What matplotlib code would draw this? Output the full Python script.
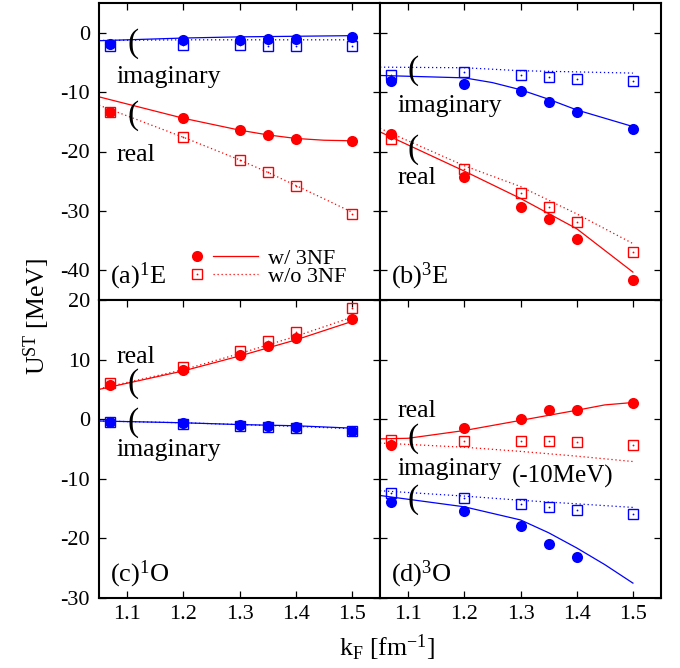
import matplotlib
matplotlib.use("Agg")
import matplotlib.pyplot as plt
from matplotlib.lines import Line2D
from matplotlib.legend_handler import HandlerBase

plt.rcParams['font.family'] = ['Liberation Serif', 'DejaVu Serif']
plt.rcParams['mathtext.fontset'] = 'custom'
plt.rcParams['mathtext.rm'] = 'Liberation Serif'
plt.rcParams['mathtext.it'] = 'Liberation Serif:italic'
plt.rcParams['mathtext.bf'] = 'Liberation Serif:bold'
plt.rcParams['axes.unicode_minus'] = False

RED = '#ff0000'
BLUE = '#0000ff'

# ---------------- data ----------------
kF_pts = [1.07, 1.2, 1.3, 1.35, 1.4, 1.5]

# (a) 1E
a_re_w = [-13.4, -14.4, -16.4, -17.3, -17.9, -18.2]
a_re_wo = [-13.4, -17.6, -21.4, -23.5, -25.8, -30.6]
a_im_w = [-1.9, -1.3, -1.2, -1.1, -1.1, -0.8]
a_im_wo = [-2.3, -2.1, -2.1, -2.2, -2.2, -2.3]
a_re_w_line_x = [1.05, 1.1, 1.2, 1.3, 1.35, 1.4, 1.45, 1.5]
a_re_w_line = [-10.8, -12.0, -14.4, -16.4, -17.2, -17.8, -18.1, -18.2]
a_re_wo_line_x = [1.05, 1.2, 1.3, 1.35, 1.4, 1.5]
a_re_wo_line = [-12.2, -17.6, -21.4, -23.5, -25.7, -30.2]
a_im_w_line_x = [1.05, 1.2, 1.3, 1.4, 1.5]
a_im_w_line = [-1.35, -0.9, -0.7, -0.6, -0.5]
a_im_wo_line_x = [1.05, 1.2, 1.5]
a_im_wo_line = [-1.3, -1.2, -1.2]

# (b) 3E
b_re_w = [-17.1, -24.3, -29.4, -31.4, -34.8, -41.6]
b_re_wo = [-17.9, -22.9, -27.0, -29.3, -31.8, -37.0]
b_im_w = [-8.1, -8.7, -9.8, -11.6, -13.3, -16.2]
b_im_wo = [-7.1, -6.6, -7.2, -7.5, -7.8, -8.1]
b_re_w_line_x = [1.05, 1.2, 1.3, 1.4, 1.5]
b_re_w_line = [-16.7, -23.3, -27.9, -33.0, -40.3]
b_re_wo_line_x = [1.05, 1.2, 1.3, 1.4, 1.5]
b_re_wo_line = [-16.1, -22.4, -25.9, -30.5, -35.5]
b_im_w_line_x = [1.05, 1.2, 1.25, 1.3, 1.35, 1.4, 1.45, 1.5]
b_im_w_line = [-7.2, -7.6, -8.4, -9.6, -11.2, -13.0, -14.4, -15.8]
b_im_wo_line_x = [1.05, 1.2, 1.3, 1.4, 1.5]
b_im_wo_line = [-5.8, -5.9, -6.4, -6.6, -6.8]

# (c) 1O
c_re_w = [5.7, 8.3, 10.8, 12.2, 13.6, 16.8]
c_re_wo = [6.0, 8.8, 11.5, 13.1, 14.7, 18.6]
c_im_w = [-0.4, -0.7, -1.0, -1.2, -1.3, -1.9]
c_im_wo = [-0.5, -0.8, -1.1, -1.3, -1.4, -2.0]
c_re_w_line_x = [1.05, 1.2, 1.3, 1.4, 1.5]
c_re_w_line = [5.0, 8.1, 10.6, 13.3, 16.4]
c_re_wo_line_x = [1.05, 1.2, 1.3, 1.4, 1.5]
c_re_wo_line = [5.1, 8.3, 11.0, 13.9, 17.1]
c_im_w_line_x = [1.05, 1.2, 1.3, 1.4, 1.5]
c_im_w_line = [-0.3, -0.6, -0.9, -1.1, -1.5]
c_im_wo_line_x = [1.05, 1.2, 1.3, 1.4, 1.5]
c_im_wo_line = [-0.3, -0.6, -0.9, -1.2, -1.6]

# (d) 3O  (imaginary shifted by -10 MeV)
d_re_w = [-4.3, -1.5, 0.1, 1.5, 1.6, 2.8]
d_re_wo = [-3.5, -3.6, -3.7, -3.7, -3.9, -4.3]
d_im_w_x = [1.07, 1.2, 1.3, 1.35, 1.4]
d_im_w = [-13.9, -15.4, -17.9, -20.9, -23.2]
d_im_wo = [-12.3, -13.2, -14.2, -14.8, -15.2, -15.9]
d_re_w_line_x = [1.05, 1.1, 1.2, 1.3, 1.4, 1.45, 1.5]
d_re_w_line = [-3.3, -3.2, -1.9, -0.2, 1.5, 2.4, 2.8]
d_re_wo_line_x = [1.05, 1.2, 1.3, 1.4, 1.5]
d_re_wo_line = [-4.0, -4.7, -5.4, -6.2, -7.1]
d_im_w_line_x = [1.05, 1.2, 1.3, 1.35, 1.4, 1.45, 1.5]
d_im_w_line = [-12.8, -14.7, -16.9, -19.05, -21.6, -24.4, -27.5]
d_im_wo_line_x = [1.05, 1.2, 1.3, 1.4, 1.5]
d_im_wo_line = [-12.0, -12.9, -13.6, -14.2, -14.8]

x_ticks = [1.1, 1.2, 1.3, 1.4, 1.5]
top_yticks = [0, -10, -20, -30, -40]
bot_yticks = [20, 10, 0, -10, -20, -30]
panel_labels = ['(a)$^{1}$E', '(b)$^{3}$E', '(c)$^{1}$O', '(d)$^{3}$O']

FS = 16      # ticks, legend
FS_T = 18.5  # annotations, axis labels
FS_P = 19    # panel labels
MS_C = 8
MS_S = 7.2
LW = 0.9
DOT = (0, (1, 2.2))

fig = plt.figure(figsize=(6.8, 6.68), dpi=100)
W, H = 680.0, 668.0
x0, xm, x1 = 99, 380, 661
y0, ym, y1 = 3, 300, 598
ax_a = fig.add_axes([x0 / W, 1 - ym / H, (xm - x0) / W, (ym - y0) / H])
ax_b = fig.add_axes([xm / W, 1 - ym / H, (x1 - xm) / W, (ym - y0) / H])
ax_c = fig.add_axes([x0 / W, 1 - y1 / H, (xm - x0) / W, (y1 - ym) / H])
ax_d = fig.add_axes([xm / W, 1 - y1 / H, (x1 - xm) / W, (y1 - ym) / H])


def draw(ax, xs, re_w, re_wo, im_w, im_wo, lines, im_w_x=None):
    (rwx, rw, rwox, rwo, iwx, iw, iwox, iwo) = lines
    ax.plot(rwx, rw, color=RED, lw=LW, zorder=2)
    ax.plot(rwox, rwo, color=RED, lw=LW, ls=DOT, zorder=2)
    ax.plot(iwx, iw, color=BLUE, lw=LW, zorder=2)
    ax.plot(iwox, iwo, color=BLUE, lw=LW, ls=DOT, zorder=2)
    ixw = xs if im_w_x is None else im_w_x
    for yy, col in ((re_wo, RED), (im_wo, BLUE)):
        ax.plot(xs, yy, ls='none', marker='s', ms=MS_S, mfc='none', mec=col, mew=1.0, zorder=3)
        ax.plot(xs, yy, ls='none', marker='o', ms=1.3, mfc=col, mec=col, mew=0, zorder=3)
    ax.plot(xs, re_w, ls='none', marker='o', ms=MS_C, color=RED, mew=0, zorder=4)
    ax.plot(ixw, im_w, ls='none', marker='o', ms=MS_C, color=BLUE, mew=0, zorder=4)


draw(ax_a, kF_pts, a_re_w, a_re_wo, a_im_w, a_im_wo,
     (a_re_w_line_x, a_re_w_line, a_re_wo_line_x, a_re_wo_line,
      a_im_w_line_x, a_im_w_line, a_im_wo_line_x, a_im_wo_line))
draw(ax_b, kF_pts, b_re_w, b_re_wo, b_im_w, b_im_wo,
     (b_re_w_line_x, b_re_w_line, b_re_wo_line_x, b_re_wo_line,
      b_im_w_line_x, b_im_w_line, b_im_wo_line_x, b_im_wo_line))
draw(ax_c, kF_pts, c_re_w, c_re_wo, c_im_w, c_im_wo,
     (c_re_w_line_x, c_re_w_line, c_re_wo_line_x, c_re_wo_line,
      c_im_w_line_x, c_im_w_line, c_im_wo_line_x, c_im_wo_line))
draw(ax_d, kF_pts, d_re_w, d_re_wo, d_im_w, d_im_wo,
     (d_re_w_line_x, d_re_w_line, d_re_wo_line_x, d_re_wo_line,
      d_im_w_line_x, d_im_w_line, d_im_wo_line_x, d_im_wo_line), im_w_x=d_im_w_x)

for ax, top in ((ax_a, True), (ax_b, True), (ax_c, False), (ax_d, False)):
    ax.set_xlim(1.05, 1.55)
    if top:
        ax.set_ylim(-45, 5)
        ax.set_yticks(top_yticks)
    else:
        ax.set_ylim(-30, 20)
        ax.set_yticks(bot_yticks)
    ax.set_xticks(x_ticks)
    ax.set_xticklabels([f'{t:.1f}' for t in x_ticks])
    for s in ax.spines.values():
        s.set_linewidth(1.5)
    ax.tick_params(axis='both', direction='in', length=5, width=0.9, labelsize=FS,
                   left=True, right=True, top=True, bottom=not top)
    ax.tick_params(axis='y', pad=6.5)
    ax.tick_params(axis='x', pad=5)
    if top:
        ax.tick_params(axis='x', labelbottom=False)

ax_b.tick_params(axis='y', labelleft=False)
ax_d.tick_params(axis='y', labelleft=False)

# panel labels
for ax, lab in zip((ax_a, ax_b, ax_c, ax_d), panel_labels):
    ax.text(0.04, 0.057, lab, transform=ax.transAxes, fontsize=FS_P, ha='left', va='baseline')

PFS = 24
# annotations (a)
ax_a.text(1.082, -8.55, 'imaginary', fontsize=FS_T, ha='left', va='baseline')
ax_a.text(1.082, -21.6, 'real', fontsize=FS_T, ha='left', va='baseline')
ax_a.text(1.1, -1.8, '(', fontsize=PFS, ha='left', va='center')
ax_a.text(1.1, -14.0, '(', fontsize=PFS, ha='left', va='center')
# (b)
ax_b.text(1.082, -13.3, 'imaginary', fontsize=FS_T, ha='left', va='baseline')
ax_b.text(1.082, -25.5, 'real', fontsize=FS_T, ha='left', va='baseline')
ax_b.text(1.099, -6.4, '(', fontsize=PFS, ha='left', va='center')
ax_b.text(1.099, -19.75, '(', fontsize=PFS, ha='left', va='center')
# (c)
ax_c.text(1.082, 9.45, 'real', fontsize=FS_T, ha='left', va='baseline')
ax_c.text(1.082, -6.1, 'imaginary', fontsize=FS_T, ha='left', va='baseline')
ax_c.text(1.1, 5.9, '(', fontsize=PFS, ha='left', va='center')
ax_c.text(1.1, -0.5, '(', fontsize=PFS, ha='left', va='center')
# (d)
ax_d.text(1.082, 0.4, 'real', fontsize=FS_T, ha='left', va='baseline')
ax_d.text(1.082, -9.4, 'imaginary', fontsize=FS_T, ha='left', va='baseline')
ax_d.text(1.285, -10.6, '(-10MeV)', fontsize=FS_T - 0.5, ha='left', va='baseline')
ax_d.text(1.099, -3.3, '(', fontsize=PFS, ha='left', va='center')
ax_d.text(1.099, -13.5, '(', fontsize=PFS, ha='left', va='center')


# legend: marker at left, line at right, then text
class MarkLineHandler(HandlerBase):
    def create_artists(self, legend, orig_handle, xdescent, ydescent, width, height, fontsize, trans):
        mk, ln = orig_handle
        y = height / 2.0 - ydescent
        xl = -xdescent
        arts = []
        m = Line2D([xl + 0.1 * width], [y], ls='none', marker=mk.get_marker(), ms=mk.get_markersize(),
                   mfc=mk.get_markerfacecolor(), mec=mk.get_markeredgecolor(), mew=mk.get_markeredgewidth())
        arts.append(m)
        if mk.get_marker() == 's':
            arts.append(Line2D([xl + 0.1 * width], [y], ls='none', marker='o', ms=1.3,
                               mfc=mk.get_markeredgecolor(), mec=mk.get_markeredgecolor(), mew=0))
        l = Line2D([xl + 0.34 * width, xl + width], [y, y], color=ln.get_color(), lw=ln.get_linewidth(),
                   ls=ln.get_linestyle())
        if ln.get_linestyle() != '-':
            l.set_dashes((1, 2.2))
        arts.append(l)
        for a in arts:
            a.set_transform(trans)
        return arts


h1 = (Line2D([], [], ls='none', marker='o', ms=MS_C, mfc=RED, mec=RED, mew=0),
      Line2D([], [], color=RED, lw=LW, ls='-'))
h2 = (Line2D([], [], ls='none', marker='s', ms=MS_S, mfc='none', mec=RED, mew=1.0),
      Line2D([], [], color=RED, lw=LW, ls=':'))
ax_a.legend([h1, h2], ['w/ 3NF', 'w/o 3NF'], handler_map={tuple: MarkLineHandler()},
            loc='lower left', bbox_to_anchor=(0.324, 0.045), frameon=False, fontsize=FS,
            handlelength=3.05, handletextpad=0.45, labelspacing=-0.12, borderpad=0, borderaxespad=0)

fig.text(37 / W, 1 - 317 / H, r'U$^{\mathrm{ST}}$ [MeV]', rotation=90, fontsize=FS_T, ha='center', va='center')
fig.text(387 / W, 1 - 648 / H, r'k$_{\mathrm{F}}$ [fm$^{\mathrm{-1}}$]', fontsize=FS_T, ha='center', va='center')

fig.savefig('out.png', dpi=100)
